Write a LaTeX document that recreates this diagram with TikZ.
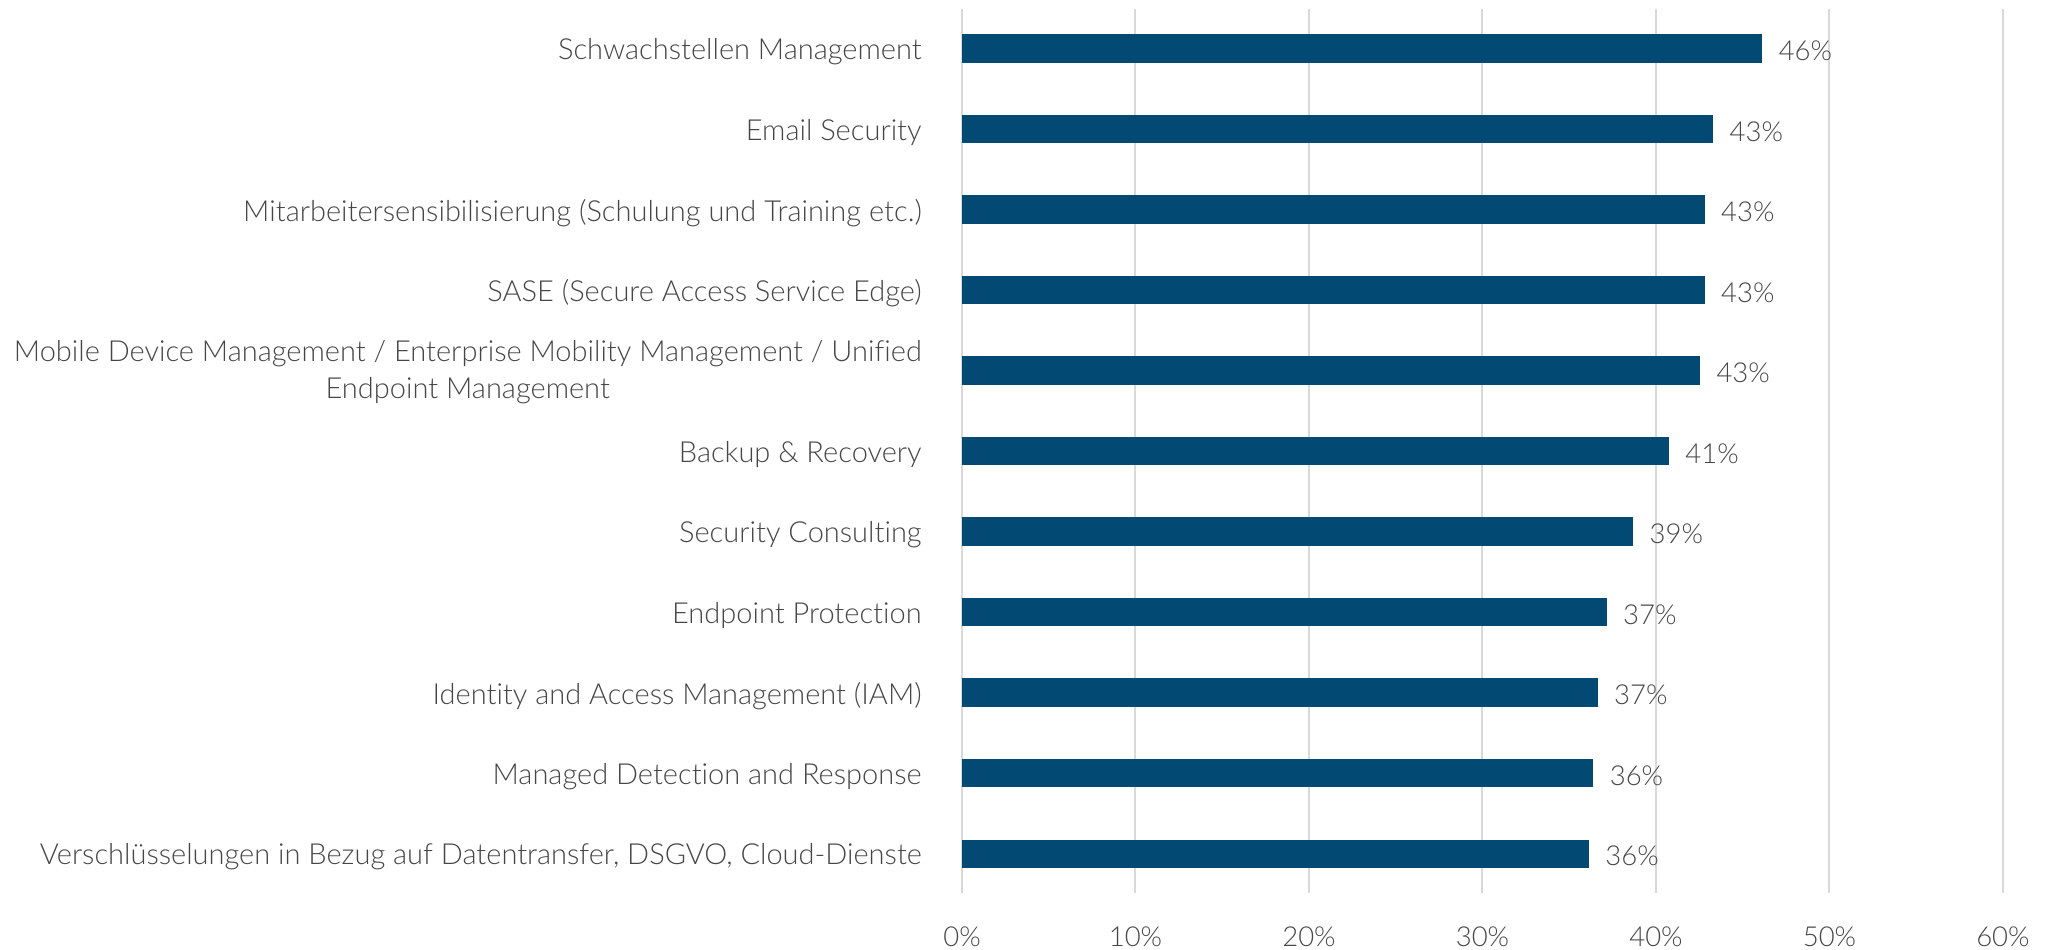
\documentclass[tikz,border=0pt]{standalone}
\usepackage{fontspec}
\setmainfont{Lato Light}[Ligatures={NoCommon}]
\definecolor{barblue}{RGB}{2,73,115}
\definecolor{txtgray}{RGB}{70,70,70}
\definecolor{gridgray}{RGB}{217,217,217}
\tikzset{
	barfill/.style={fill=barblue},
	gridline/.style={draw=gridgray,line width=0.8pt},
	catlabel/.style={anchor=east,text=txtgray,align=center,inner sep=0pt,font=\fontsize{11.6}{14.8}\selectfont},
	vallabel/.style={anchor=west,text=txtgray,inner sep=0pt,font=\fontsize{11}{12}\selectfont},
	ticklabel/.style={text=txtgray,inner sep=0pt,font=\fontsize{11}{12}\selectfont}
}
\begin{document}
\begin{tikzpicture}[x=6.94pt,y=32.21pt]
		\useasboundingbox (-55.45,0.602) rectangle (62.77,-11.195);
		% vertical grid
		\draw[gridline] (0,0.49) -- (0,-10.49);
		\draw[gridline] (10,0.49) -- (10,-10.49);
		\draw[gridline] (20,0.49) -- (20,-10.49);
		\draw[gridline] (30,0.49) -- (30,-10.49);
		\draw[gridline] (40,0.49) -- (40,-10.49);
		\draw[gridline] (50,0.49) -- (50,-10.49);
		\draw[gridline] (60,0.49) -- (60,-10.49);
		\node[ticklabel] (t0) at (0,-11.03) {0\%};
		\node[ticklabel] (t10) at (10,-11.03) {10\%};
		\node[ticklabel] (t20) at (20,-11.03) {20\%};
		\node[ticklabel] (t30) at (30,-11.03) {30\%};
		\node[ticklabel] (t40) at (40,-11.03) {40\%};
		\node[ticklabel] (t50) at (50,-11.03) {50\%};
		\node[ticklabel] (t60) at (60,-11.03) {60\%};
		% bars
		\fill[barfill] (0,0.1757) rectangle (46.13,-0.1757);
		\fill[barfill] (0,-0.8243) rectangle (43.30,-1.1757);
		\fill[barfill] (0,-1.8243) rectangle (42.81,-2.1757);
		\fill[barfill] (0,-2.8243) rectangle (42.81,-3.1757);
		\fill[barfill] (0,-3.8243) rectangle (42.54,-4.1757);
		\fill[barfill] (0,-4.8243) rectangle (40.75,-5.1757);
		\fill[barfill] (0,-5.8243) rectangle (38.69,-6.1757);
		\fill[barfill] (0,-6.8243) rectangle (37.16,-7.1757);
		\fill[barfill] (0,-7.8243) rectangle (36.64,-8.1757);
		\fill[barfill] (0,-8.8243) rectangle (36.39,-9.1757);
		\fill[barfill] (0,-9.8243) rectangle (36.14,-10.1757);
		% values
		\node[vallabel] (v1) at (47.05,-0.03) {46\%};
		\node[vallabel] (v2) at (44.22,-1.03) {43\%};
		\node[vallabel] (v3) at (43.73,-2.03) {43\%};
		\node[vallabel] (v4) at (43.73,-3.03) {43\%};
		\node[vallabel] (v5) at (43.46,-4.03) {43\%};
		\node[vallabel] (v6) at (41.67,-5.03) {41\%};
		\node[vallabel] (v7) at (39.61,-6.03) {39\%};
		\node[vallabel] (v8) at (38.08,-7.03) {37\%};
		\node[vallabel] (v9) at (37.56,-8.03) {37\%};
		\node[vallabel] (v10) at (37.31,-9.03) {36\%};
		\node[vallabel] (v11) at (37.06,-10.03) {36\%};
		% categories
		\node[catlabel] (c1) at (-2.3,-0.04) {Schwachstellen Management};
		\node[catlabel] (c2) at (-2.3,-1.04) {Email Security};
		\node[catlabel] (c3) at (-2.3,-2.04) {Mitarbeitersensibilisierung (Schulung und Training etc.)};
		\node[catlabel] (c4) at (-2.3,-3.04) {SASE (Secure Access Service Edge)};
		\node[catlabel] (c5) at (-2.3,-4.02) {Mobile Device Management / Enterprise Mobility Management / Unified\\Endpoint Management};
		\node[catlabel] (c6) at (-2.3,-5.04) {Backup \& Recovery};
		\node[catlabel] (c7) at (-2.3,-6.04) {Security Consulting};
		\node[catlabel] (c8) at (-2.3,-7.04) {Endpoint Protection};
		\node[catlabel] (c9) at (-2.3,-8.04) {Identity and Access Management (IAM)};
		\node[catlabel] (c10) at (-2.3,-9.04) {Managed Detection and Response};
		\node[catlabel] (c11) at (-2.3,-10.04) {Verschlüsselungen in Bezug auf Datentransfer, DSGVO, Cloud-Dienste};
	\end{tikzpicture}
\end{document}
